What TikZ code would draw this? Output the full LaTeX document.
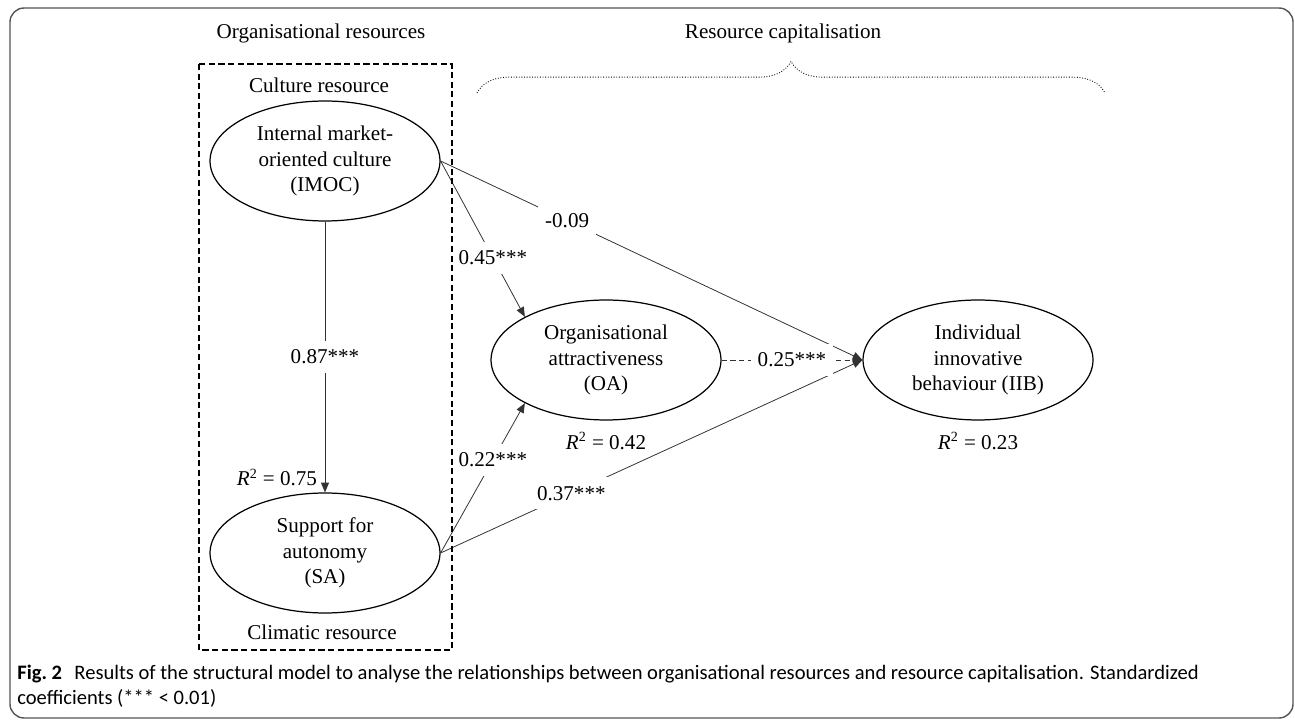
\documentclass[tikz,border=0pt]{standalone}
\usepackage{fontspec}
\setmainfont{Liberation Serif}
\newfontfamily\captionfont{Carlito}
\usetikzlibrary{shapes.geometric, arrows.meta, positioning, decorations.pathreplacing}
\definecolor{framegray}{RGB}{85,85,85}
\definecolor{linegray}{RGB}{50,50,50}

\begin{document}
\begin{tikzpicture}[x=0.02cm, y=-0.02cm,
  construct/.style={draw, ellipse, line width=0.7pt, minimum width=4.6cm, minimum height=2.4cm, inner sep=0pt, align=center, font=\fontsize{12}{14.5}\selectfont},
  heading/.style={font=\fontsize{12}{14}\selectfont},
  coef/.style={fill=white, inner xsep=4pt, inner ysep=5pt, font=\fontsize{12}{14}\selectfont},
  link/.style={draw=linegray, line width=0.45pt, -{Triangle[length=5.5pt, width=4.5pt]}}]
  \useasboundingbox (0,0) rectangle (1295,722);

  % frame
  \draw[framegray, line width=0.8pt, rounded corners=8pt] (10,8) rectangle (1293,718);

  % headings
  \node[heading] (orgtitle) at (321,33) {Organisational resources};
  \node[heading] (captitle) at (783,33) {Resource capitalisation};
  \draw[densely dotted, line width=0.5pt, decorate, decoration={brace, amplitude=18pt}] (477,93) -- (1105,93);

  % constructs
  \node[construct] (imoc) at (325,161) {Internal market-\\oriented culture\\(IMOC)};
  \node[construct] (sa) at (325,553) {Support for\\autonomy\\(SA)};
  \node[construct] (oa) at (606,360) {Organisational\\attractiveness\\(OA)};
  \node[construct] (iib) at (978,360) {Individual\\innovative\\behaviour (IIB)};

  % paths
  \draw[link] (imoc) -- node[coef] {0.87***} (sa);
  \draw[link] (imoc.east) -- node[coef, pos=0.62] {0.45***} (oa.152);
  \draw[link] (imoc.east) -- node[coef, pos=0.3] {-0.09} (iib.west);
  \draw[link] (sa.east) -- node[coef, pos=0.62] {0.22***} (oa.208);
  \draw[link] (sa.east) -- node[coef, pos=0.31] {0.37***} (iib.west);
  \draw[link, dash pattern=on 3pt off 2pt] (oa) -- node[coef] {0.25***} (iib);

  % explained variance
  \node[heading, above left=0pt and 1pt of sa.north] (r2sa) {\textit{R}\textsuperscript{2} = 0.75};
  \node[heading, below=3pt of oa] (r2oa) {\textit{R}\textsuperscript{2} = 0.42};
  \node[heading, below=3pt of iib] (r2iib) {\textit{R}\textsuperscript{2} = 0.23};

  % organisational resources box
  \draw[dash pattern=on 3.5pt off 2pt, line width=0.7pt] (199,64) rectangle (452,650);
  \node[heading] (culture) at (319,85) {Culture resource};
  \node[heading] (climate) at (322,632) {Climatic resource};

  % caption
  \node[anchor=north west, align=left, inner sep=0pt, font=\captionfont\fontsize{11.7}{14}\selectfont] (caption) at (17,665)
    {\textbf{Fig.~2}\hspace{0.6em}Results of the structural model to analyse the relationships between organisational resources and resource capitalisation. Standardized\\
     coefficients (*** \textless\ 0.01)};
\end{tikzpicture}
\end{document}
